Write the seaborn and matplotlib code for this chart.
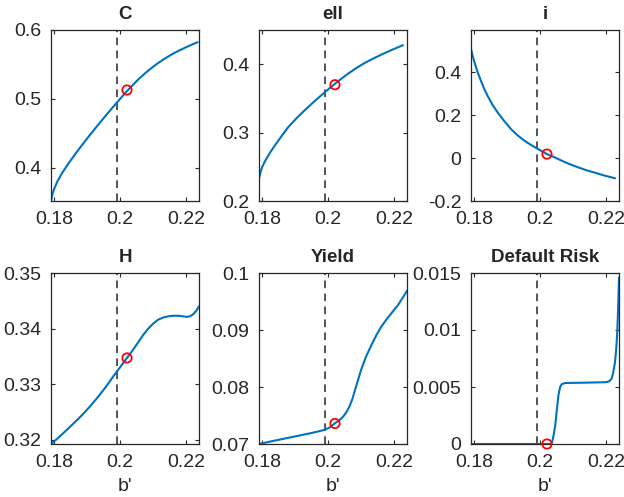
import matplotlib
matplotlib.use("Agg")
import matplotlib.pyplot as plt
import seaborn as sns

sns.set_style("ticks")
plt.rcParams['font.family'] = ['Liberation Sans', 'DejaVu Sans']

# values (b' on the x axis)
c_x = [0.1790, 0.1795, 0.1800, 0.1810, 0.1823, 0.1843, 0.1865, 0.1884, 0.1910, 0.1934, 0.1962,
       0.1992, 0.2021, 0.2056, 0.2080, 0.2106, 0.2130, 0.2157, 0.2180, 0.2200, 0.2220, 0.2236]
c_y = [0.352, 0.363, 0.370, 0.381, 0.392, 0.4064, 0.4209, 0.4329, 0.4488, 0.4629, 0.479,
       0.4958, 0.5115, 0.5286, 0.5389, 0.5488, 0.5567, 0.5646, 0.5703, 0.5749, 0.5791, 0.5823]

ell_x = [0.1790, 0.1795, 0.1800, 0.1808, 0.1822, 0.1838, 0.1858, 0.1879, 0.1904, 0.1929, 0.1960,
         0.1990, 0.2020, 0.2040, 0.2061, 0.2086, 0.2111, 0.2137, 0.2162, 0.2182, 0.2202, 0.2228]
ell_y = [0.233, 0.243, 0.250, 0.258, 0.2695, 0.281, 0.2945, 0.3080, 0.3210, 0.3327, 0.3464,
         0.3590, 0.3710, 0.3786, 0.3862, 0.3944, 0.4017, 0.4082, 0.4140, 0.4184, 0.4226, 0.4278]

i_x = [0.1790, 0.1795, 0.1800, 0.1810, 0.1820, 0.1830, 0.1840, 0.1855, 0.1871, 0.1890, 0.1912, 0.1932,
       0.1952, 0.1972, 0.1992, 0.2021, 0.2045, 0.2066, 0.2090, 0.2116, 0.2140, 0.2167, 0.2195, 0.2228]
i_y = [0.510, 0.478, 0.450, 0.402, 0.362, 0.324, 0.292, 0.250, 0.213, 0.175, 0.135, 0.106,
       0.082, 0.062, 0.044, 0.019, 0.003, -0.012, -0.028, -0.043, -0.056, -0.068, -0.081, -0.094]

h_x = [0.1790, 0.1810, 0.1830, 0.1855, 0.1881, 0.1906, 0.1932, 0.1957, 0.1982, 0.2001, 0.2021, 0.2040,
       0.2056, 0.2071, 0.2086, 0.2101, 0.2116, 0.2132, 0.2147, 0.2162, 0.2177, 0.2190, 0.2203, 0.2213,
       0.2223, 0.2233, 0.2240]
h_y = [0.3192, 0.3202, 0.3213, 0.3227, 0.3242, 0.3258, 0.3276, 0.3295, 0.3316, 0.3331, 0.3347, 0.3362,
       0.3376, 0.3389, 0.3400, 0.3409, 0.3416, 0.3420, 0.3422, 0.3423, 0.3423, 0.3422, 0.3421, 0.3422,
       0.3426, 0.3433, 0.3440]

yield_x = [0.1790, 0.1838, 0.1889, 0.1939, 0.1970, 0.1990, 0.2005, 0.2020, 0.2035, 0.2046, 0.2056, 0.2066,
           0.2074, 0.2081, 0.2091, 0.2101, 0.2116, 0.2132, 0.2147, 0.2162, 0.2177, 0.2192, 0.2213, 0.2225,
           0.2233, 0.2240]
yield_y = [0.0700, 0.0706, 0.0712, 0.0718, 0.0722, 0.0725, 0.0729, 0.0736, 0.0742, 0.0748, 0.0756, 0.0767,
           0.0779, 0.0793, 0.0812, 0.0831, 0.0854, 0.0874, 0.0891, 0.0906, 0.0918, 0.0929, 0.0944, 0.0955,
           0.0962, 0.0969]

risk_x = [0.1790, 0.2035, 0.2040, 0.2046, 0.2051, 0.2056, 0.2061, 0.2066, 0.2076, 0.2137, 0.2200, 0.2210,
          0.2217, 0.2222, 0.2228, 0.2232, 0.2235, 0.2238, 0.2240]
risk_y = [0.0, 0.0, 0.0006, 0.0016, 0.0030, 0.0043, 0.0050, 0.00525, 0.00535, 0.00538, 0.00542, 0.0055,
          0.0057, 0.0062, 0.0072, 0.0085, 0.0100, 0.0125, 0.0146]

titles = ["C", "ell", "i", "H", "Yield", "Default Risk"]
series = [(c_x, c_y), (ell_x, ell_y), (i_x, i_y), (h_x, h_y), (yield_x, yield_y), (risk_x, risk_y)]

# steady state point and the vertical reference line
b_line = 0.1992
b_point = 0.2021
point_y = [0.513, 0.370, 0.019, 0.3347, 0.0736, 0.0]

y_limits = [(0.352, 0.6), (0.2, 0.45), (-0.2, 0.598), (0.3192, 0.35), (0.07, 0.1), (0.0, 0.015)]
y_ticks = [[0.4, 0.5, 0.6], [0.2, 0.3, 0.4], [-0.2, 0, 0.2, 0.4],
           [0.32, 0.33, 0.34, 0.35], [0.07, 0.08, 0.09, 0.1], [0, 0.005, 0.01, 0.015]]
x_ticks = [0.18, 0.2, 0.22]

W, H = 624, 497
fig = plt.figure(figsize=(W / 100, H / 100), dpi=100)
lefts = [51, 259, 471]
tops = [30, 273]
aw, ah = 148, 171

fmt = lambda v, pos=None: f"{round(v, 6):g}"

for k in range(6):
    r, c = divmod(k, 3)
    ax = fig.add_axes([lefts[c] / W, 1 - (tops[r] + ah) / H, aw / W, ah / H])
    xs, ys = series[k]
    ax.axvline(b_line, color='#262626', ls='--', lw=1.1, dashes=(5, 3.5), zorder=1)
    sns.lineplot(x=xs, y=ys, ax=ax, color='#0072BD', linewidth=1.5, estimator=None, zorder=2)
    sns.scatterplot(x=[b_point], y=[point_y[k]], ax=ax, marker='o', s=45,
                    facecolor='none', edgecolor='red', linewidth=1.3, zorder=3, clip_on=False)
    ax.set_xlim(0.1790, 0.2240)
    ax.set_ylim(*y_limits[k])
    ax.set_xticks(x_ticks)
    ax.set_yticks(y_ticks[k])
    ax.xaxis.set_major_formatter(plt.FuncFormatter(fmt))
    ax.yaxis.set_major_formatter(plt.FuncFormatter(fmt))
    ax.tick_params(direction='in', top=True, right=True, length=3, width=0.8,
                   labelsize=14, colors='#262626')
    ax.tick_params(axis='x', pad=7)
    ax.tick_params(axis='y', pad=7)
    for s in ax.spines.values():
        s.set_color('#262626')
        s.set_linewidth(0.9)
    ax.set_title(titles[k], fontsize=13.5, fontweight='bold', pad=8)
    if r == 1:
        ax.set_xlabel("b'", fontsize=14, color='#262626', labelpad=5)

fig.savefig("out.png", dpi=100)
